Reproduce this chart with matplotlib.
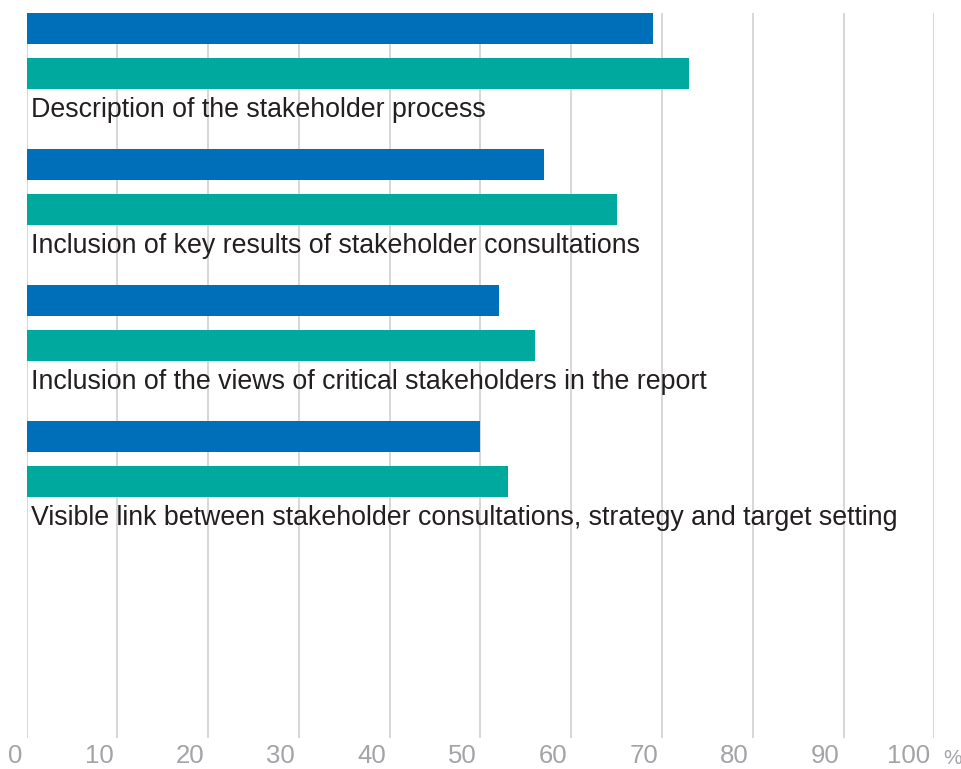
import matplotlib.pyplot as plt
import matplotlib.transforms as mtransforms
import numpy as np

# Stakeholder reporting items, two series per item (blue = first, teal = second)
categories = [
    'Description of the stakeholder process',
    'Inclusion of key results of stakeholder consultations',
    'Inclusion of the views of critical stakeholders in the report',
    'Visible link between stakeholder consultations, strategy and target setting',
]
series_blue = [69, 57, 52, 50]
series_teal = [73, 65, 56, 53]
x_ticks = [0, 10, 20, 30, 40, 50, 60, 70, 80, 90, 100]

BLUE = '#006fba'
TEAL = '#00a99d'
GRID = '#d4d4d4'
TICK_COLOR = '#a3a3a8'
TEXT_COLOR = '#231f20'

BAR_H = 0.228          # bar thickness in group units
BLUE_OFF = 0.114       # centre of blue bar within a group
TEAL_OFF = 0.445       # centre of teal bar within a group
LABEL_OFF = 0.765      # baseline of category label within a group
TICK_PAD = 4           # points between axis bottom and tick labels

plt.rcParams['font.family'] = ['Liberation Sans', 'DejaVu Sans']

fig = plt.figure(figsize=(9.62, 7.69), dpi=100)
ax = fig.add_axes([26.7 / 962, 31 / 769, 907.6 / 962, 725 / 769])

pos = np.arange(len(categories))
ax.barh(pos + BLUE_OFF, series_blue, height=BAR_H, color=BLUE, zorder=2)
ax.barh(pos + TEAL_OFF, series_teal, height=BAR_H, color=TEAL, zorder=2)

# category labels sit under each pair of bars
shift = mtransforms.ScaledTranslation(4 / 100, 0, fig.dpi_scale_trans)
for p, name in zip(pos, categories):
    ax.text(0, p + LABEL_OFF, name, fontsize=19.3, color=TEXT_COLOR,
            va='baseline', ha='left', transform=ax.transData + shift, zorder=3)

ax.set_xlim(0, 100)
ax.set_ylim(725 / 136, 0)
ax.set_yticks([])
ax.set_xticks(x_ticks)
ax.set_xticklabels([str(t) for t in x_ticks], fontsize=18.5, color=TICK_COLOR, ha='right')
ax.tick_params(axis='x', length=0, pad=TICK_PAD)
tick_shift = mtransforms.ScaledTranslation(-4 / 100, 0, fig.dpi_scale_trans)
for lbl in ax.get_xticklabels():
    lbl.set_transform(lbl.get_transform() + tick_shift)

# percent sign trailing the last tick label
ax.annotate('%', xy=(100, 0), xycoords=('data', 'axes fraction'),
            xytext=(6.2, -21.5), textcoords='offset points',
            fontsize=15, color=TICK_COLOR, ha='left', va='bottom',
            annotation_clip=False)

ax.grid(axis='x', color=GRID, linewidth=1.3, zorder=0)
ax.set_axisbelow(True)
for s in ax.spines.values():
    s.set_visible(False)

fig.savefig('out.png', dpi=100)
